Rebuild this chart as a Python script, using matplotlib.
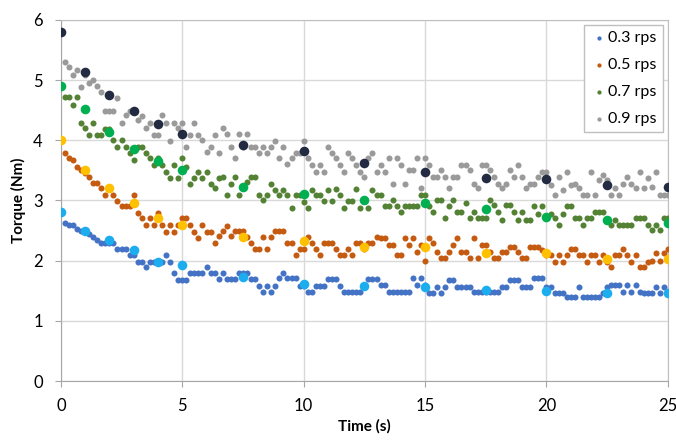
import matplotlib.pyplot as plt
import numpy as np

plt.rcParams['font.family'] = ['Lato', 'DejaVu Sans']

# measured torque, 6 samples per second (t = 1/6 ... 25 s)
torque_03 = [2.63, 2.59, 2.59, 2.52, 2.49, 2.49,
             2.45, 2.39, 2.35, 2.29, 2.29, 2.29,
             2.29, 2.19, 2.19, 2.19, 2.09, 2.09,
             1.98, 1.98, 1.89, 1.98, 1.98, 1.98,
             1.98, 2.09, 1.98, 1.79, 1.68, 1.68,
             1.68, 1.79, 1.79, 1.79, 1.79, 1.90,
             1.79, 1.79, 1.69, 1.79, 1.69, 1.69,
             1.69, 1.79, 1.79, 1.79, 1.69, 1.69,
             1.58, 1.48, 1.58, 1.48, 1.58, 1.71,
             1.79, 1.71, 1.71, 1.71, 1.58, 1.58,
             1.48, 1.48, 1.58, 1.58, 1.58, 1.69,
             1.69, 1.69, 1.58, 1.48, 1.48, 1.48,
             1.48, 1.48, 1.58, 1.69, 1.69, 1.69,
             1.60, 1.60, 1.48, 1.48, 1.48, 1.48,
             1.48, 1.48, 1.71, 1.60, 1.71, 1.60,
             1.47, 1.47, 1.57, 1.47, 1.57, 1.68,
             1.68, 1.57, 1.57, 1.57, 1.57, 1.48,
             1.48, 1.48, 1.48, 1.48, 1.48, 1.48,
             1.57, 1.57, 1.68, 1.68, 1.68, 1.57,
             1.57, 1.57, 1.71, 1.71, 1.71, 1.57,
             1.57, 1.47, 1.47, 1.47, 1.40, 1.40,
             1.40, 1.57, 1.40, 1.40, 1.40, 1.40,
             1.40, 1.47, 1.57, 1.60, 1.60, 1.60,
             1.48, 1.60, 1.48, 1.60, 1.48, 1.47,
             1.47, 1.47, 1.57, 1.47, 1.57, 1.47]

torque_05 = [3.78, 3.70, 3.68, 3.56, 3.50, 3.45,
             3.39, 3.29, 3.29, 3.20, 3.09, 3.20,
             3.09, 2.99, 2.90, 2.90, 2.90, 3.09,
             2.79, 2.70, 2.59, 2.70, 2.59, 2.79,
             2.59, 2.48, 2.59, 2.48, 2.59, 2.70,
             2.70, 2.59, 2.48, 2.37, 2.59, 2.48,
             2.48, 2.29, 2.41, 2.50, 2.57, 2.41,
             2.50, 2.50, 2.50, 2.40, 2.29, 2.19,
             2.19, 2.40, 2.19, 2.40, 2.50, 2.50,
             2.50, 2.29, 2.29, 2.09, 2.19, 2.19,
             2.40, 2.29, 2.19, 2.09, 2.29, 2.29,
             2.29, 2.19, 2.09, 2.09, 2.19, 2.09,
             2.29, 2.29, 2.19, 2.29, 2.29, 2.40,
             2.37, 2.37, 2.26, 2.26, 2.09, 2.09,
             2.37, 2.26, 2.37, 2.15, 2.26, 2.00,
             2.37, 2.29, 2.15, 2.04, 2.04, 2.15,
             2.26, 2.37, 2.15, 2.15, 2.04, 2.37,
             2.04, 2.26, 2.26, 2.15, 2.04, 2.04,
             2.15, 2.15, 2.23, 2.23, 2.15, 2.04,
             2.04, 2.23, 2.23, 2.23, 2.18, 2.10,
             2.09, 1.98, 2.09, 1.98, 2.09, 2.20,
             2.20, 2.09, 2.09, 1.98, 2.09, 2.09,
             1.98, 2.09, 1.98, 1.90, 2.09, 2.09,
             2.20, 2.09, 1.98, 2.09, 1.90, 1.90,
             1.98, 2.00, 2.12, 2.00, 2.12, 2.20]

torque_07 = [4.71, 4.71, 4.58, 4.71, 4.28, 4.20,
             4.09, 4.28, 4.09, 4.09, 4.19, 4.19,
             4.00, 3.89, 4.00, 3.89, 3.78, 3.67,
             3.89, 3.89, 3.78, 3.70, 3.59, 3.70,
             3.59, 3.48, 3.38, 3.59, 3.38, 3.70,
             3.55, 3.28, 3.38, 3.48, 3.38, 3.48,
             3.28, 3.20, 3.38, 3.39, 3.09, 3.28,
             3.39, 3.09, 3.20, 3.31, 3.39, 3.39,
             3.09, 3.00, 3.09, 3.28, 3.18, 3.09,
             3.18, 3.09, 2.88, 3.09, 3.09, 2.98,
             2.88, 3.18, 3.09, 3.09, 2.99, 3.18,
             2.99, 3.19, 3.09, 2.88, 2.99, 2.99,
             3.19, 2.88, 2.99, 2.88, 3.18, 3.09,
             3.09, 2.90, 2.90, 3.00, 2.90, 2.80,
             2.90, 2.90, 2.90, 2.90, 3.09, 3.09,
             2.90, 2.81, 3.00, 3.00, 2.70, 2.90,
             3.00, 2.81, 2.81, 2.95, 2.70, 2.81,
             2.70, 2.70, 2.70, 3.00, 2.92, 2.81,
             2.67, 2.92, 2.92, 2.81, 2.67, 2.81,
             2.67, 2.67, 2.90, 2.78, 2.90, 2.70,
             2.78, 2.70, 2.59, 2.78, 2.90, 2.90,
             2.70, 2.70, 2.59, 2.70, 2.70, 2.81,
             2.81, 2.81, 2.67, 2.59, 2.67, 2.59,
             2.59, 2.59, 2.59, 2.70, 2.70, 2.70,
             2.59, 2.51, 2.59, 2.51, 2.70, 2.70]

torque_09 = [5.30, 5.22, 5.09, 5.16, 4.89, 5.09,
             4.95, 5.00, 4.90, 4.80, 4.49, 4.49,
             4.49, 4.70, 4.28, 4.42, 4.49, 4.49,
             4.34, 4.40, 4.20, 4.28, 4.09, 4.09,
             4.42, 4.28, 3.99, 4.28, 4.20, 4.28,
             3.89, 4.09, 4.29, 4.09, 4.00, 3.81,
             3.89, 4.09, 3.79, 4.20, 4.10, 3.89,
             3.70, 4.10, 3.89, 4.10, 3.89, 3.89,
             3.79, 3.89, 3.79, 3.89, 3.99, 3.70,
             3.89, 3.61, 3.70, 3.79, 3.79, 3.99,
             3.70, 3.59, 3.48, 3.59, 3.48, 3.89,
             3.79, 3.70, 3.59, 3.48, 3.79, 3.70,
             3.59, 3.48, 3.39, 3.70, 3.79, 3.48,
             3.59, 3.48, 3.70, 3.28, 3.70, 3.59,
             3.28, 3.50, 3.50, 3.70, 3.20, 3.70,
             3.59, 3.39, 3.39, 3.50, 3.39, 3.20,
             3.39, 3.39, 3.59, 3.59, 3.50, 3.28,
             3.20, 3.59, 3.59, 3.50, 3.39, 3.28,
             3.20, 3.28, 3.50, 3.39, 3.59, 3.39,
             3.20, 3.28, 3.28, 3.39, 3.48, 3.48,
             3.26, 3.09, 3.39, 3.17, 3.48, 3.26,
             3.28, 3.20, 3.09, 3.09, 3.48, 3.09,
             3.34, 3.42, 3.34, 3.09, 3.20, 3.09,
             3.28, 3.39, 3.28, 3.20, 3.48, 3.20,
             3.37, 3.23, 3.48, 3.09, 3.09, 3.09]

# highlighted points
t_mark = [0, 1, 2, 3, 4, 5, 7.5, 10, 12.5, 15, 17.5, 20, 22.5, 25]
mark_03 = [2.80, 2.50, 2.35, 2.17, 1.98, 1.93, 1.73, 1.62, 1.58, 1.56, 1.52, 1.50, 1.47, 1.47]
mark_05 = [4.00, 3.50, 3.20, 2.95, 2.70, 2.60, 2.40, 2.33, 2.23, 2.22, 2.12, 2.12, 2.03, 2.02]
mark_07 = [4.90, 4.52, 4.13, 3.85, 3.65, 3.50, 3.23, 3.10, 3.00, 2.95, 2.85, 2.73, 2.68, 2.63]
mark_09 = [5.80, 5.13, 4.75, 4.48, 4.27, 4.10, 3.92, 3.82, 3.62, 3.48, 3.38, 3.35, 3.25, 3.23]

labels = ['0.3 rps', '0.5 rps', '0.7 rps', '0.9 rps']
series = [torque_03, torque_05, torque_07, torque_09]
marks = [mark_03, mark_05, mark_07, mark_09]
colors = ['#4472C4', '#C55A11', '#548235', '#9A9A9A']
mark_colors = ['#1CADEF', '#FFC000', '#00B050', '#222B42']

fig = plt.figure(figsize=(6.76, 4.41), dpi=100)
ax = fig.add_axes([0.09, 0.136, 0.898, 0.819])

for y, lab, c in zip(series, labels, colors):
    t = np.arange(1, len(y) + 1) / 6.0
    ax.scatter(t, y, s=19, color=c, linewidths=0, label=lab, zorder=3)
for y, c in zip(marks, mark_colors):
    ax.scatter(t_mark, y, s=48, color=c, linewidths=0, zorder=4)

ax.set_xlim(0, 25)
ax.set_ylim(0, 6)
ax.set_xticks(range(0, 26, 5))
ax.set_yticks(range(0, 7))
ax.grid(True, color='#D9D9D9', linewidth=1)
ax.set_axisbelow(True)
for sp in ax.spines.values():
    sp.set_color('#BFBFBF')
ax.spines['left'].set_color('#A6A6A6')
ax.spines['bottom'].set_color('#A6A6A6')
ax.tick_params(colors='#A6A6A6', labelcolor='black', labelsize=12, length=4)
ax.tick_params(axis='x', pad=8)
ax.tick_params(axis='y', pad=9)

ax.set_xlabel('Time (s)', fontsize=11, fontweight='bold', labelpad=4)
ax.set_ylabel('Torque (Nm)', fontsize=11, fontweight='bold', labelpad=5)

leg = ax.legend(loc='upper right', fontsize=11.5, markerscale=0.7, handletextpad=0.1,
                handlelength=1.0, borderpad=0.4, labelspacing=0.8, fancybox=False,
                framealpha=1, edgecolor='#BFBFBF', borderaxespad=0.3)

plt.savefig('out.png', dpi=100)
